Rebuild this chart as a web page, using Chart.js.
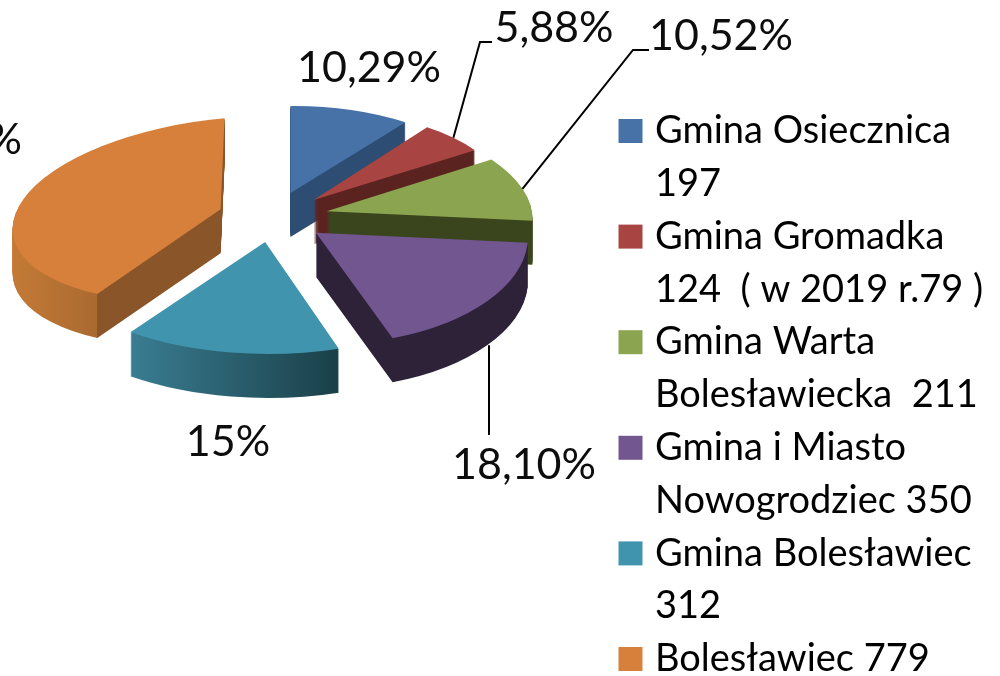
<!DOCTYPE html>
<html>
<head>
<meta charset="utf-8">
<style>
  body { margin: 0; background: #fff; }
  canvas { display: block; }
</style>
<script src="https://cdn.jsdelivr.net/npm/chart.js@4"></script>
</head>
<body>
<canvas id="pie" width="1000" height="676"></canvas>
<script>
// --- data ---
const categories = [
  ["Gmina Osiecznica", "197"],
  ["Gmina Gromadka", "124  ( w 2019 r.79 )"],
  ["Gmina Warta", "Bolesławiecka  211"],
  ["Gmina i Miasto", "Nowogrodziec 350"],
  ["Gmina Bolesławiec", "312"],
  ["Bolesławiec 779"],
];
const shares = [10.29, 5.88, 10.52, 18.1, 15, 40.21];
const shareLabels = ["10,29%", "5,88%", "10,52%", "18,10%", "15%", "40,21%"];
const colors = ["#4672a8", "#a84442", "#8aa44f", "#725690", "#4094ad", "#d6803b"];

// --- 3D look: squashed pie, every slice pulled out and extruded ---
const center = { x: 273, y: 217 };
const tilt = 0.46;
const explode = 55;
const depth = 44;
const baseRadius = 200;
// fake perspective per slice, [a, b, c, d] of x' = a*x + b*y, y' = c*x + d*y
// (px for a unit circle), front slices come out bigger
const perspective = [
  [191, 0, -2, 87],
  [191, 2, -4, 88],
  [205, 18, -1, 97],
  [212, 9, -2, 112],
  [232, -1, 2, 112],
  [208, -4, -18, 91],
];
// side wall colours, left to right across the slice
const sideStops = [
  [[0, "#2e4d72"], [1, "#2e4d72"]],
  [[0, "#5a2320"], [1, "#5a2320"]],
  [[0, "#3a451d"], [1, "#3a451d"]],
  [[0, "#2d2238"], [1, "#2d2238"]],
  [[0.21, "#3a7d92"], [0.66, "#1a4049"]],
  [[0, "#c47a36"], [0.21, "#a96a30"], [0.212, "#8a5528"], [1, "#8a5528"]],
];

function tipOf(arc) {
  const mid = (arc.startAngle + arc.endAngle) / 2;
  return {
    x: center.x + Math.cos(mid) * explode,
    y: center.y + Math.sin(mid) * explode * tilt,
  };
}

function place(ctx, arc, i, drop) {
  const tip = tipOf(arc);
  const m = perspective[i];
  ctx.translate(tip.x, tip.y + drop);
  ctx.transform(m[0] / baseRadius, m[2] / baseRadius, m[1] / baseRadius, m[3] / baseRadius, 0, 0);
  ctx.translate(-arc.x, -arc.y);
}

function rimPoint(arc, i) {
  const mid = (arc.startAngle + arc.endAngle) / 2;
  const tip = tipOf(arc);
  const m = perspective[i];
  return {
    x: tip.x + m[0] * Math.cos(mid) + m[1] * Math.sin(mid),
    y: tip.y + m[2] * Math.cos(mid) + m[3] * Math.sin(mid),
  };
}

const pie3d = {
  id: "pie3d",
  beforeDatasetDraw(chart, args) {
    const ctx = chart.ctx;
    args.meta.data.forEach((arc, i) => {
      const topOptions = arc.options;
      const grad = ctx.createLinearGradient(arc.x - baseRadius, 0, arc.x + baseRadius, 0);
      sideStops[i].forEach((s) => grad.addColorStop(s[0], s[1]));
      arc.options = Object.assign({}, topOptions, { backgroundColor: grad });
      for (let d = depth; d > 0; d--) {
        ctx.save();
        place(ctx, arc, i, d);
        arc.draw(ctx);
        ctx.restore();
      }
      arc.options = topOptions;
      ctx.save();
      place(ctx, arc, i, 0);
      arc.draw(ctx);
      ctx.restore();
    });
    return false; // already drawn
  },
  afterLayout(chart) {
    // legend sits at a fixed place, taller than what is left of the page
    const legend = chart.legend;
    legend.left = 625;
    legend.right = 1000;
    legend.top = 112;
    legend.bottom = 900;
    // the swatch hangs left of the legend box, so no clipping to it
    legend.draw = () => legend._draw();
  },
  afterDraw(chart) {
    const ctx = chart.ctx;
    const arcs = chart.getDatasetMeta(0).data;
    // label centres
    const textAt = [
      [369, 68],
      [554, 28],
      [721, 36],
      [524, 465],
      [228, 442],
      [-50, 140],
    ];
    ctx.save();
    ctx.strokeStyle = "#000";
    ctx.lineWidth = 2;
    // 5,88% and 10,52% have an elbow, 18,10% drops straight down
    let p = rimPoint(arcs[1], 1);
    ctx.beginPath();
    ctx.moveTo(p.x, p.y);
    ctx.lineTo(480, 42);
    ctx.lineTo(492, 42);
    ctx.stroke();
    p = rimPoint(arcs[2], 2);
    ctx.beginPath();
    ctx.moveTo(p.x, p.y);
    ctx.lineTo(633, 50);
    ctx.lineTo(649, 50);
    ctx.stroke();
    p = rimPoint(arcs[3], 3);
    ctx.beginPath();
    ctx.moveTo(489, p.y + depth);
    ctx.lineTo(489, 435);
    ctx.stroke();

    ctx.fillStyle = "#0d0d0d";
    ctx.font = "43px Lato";
    ctx.textAlign = "center";
    ctx.textBaseline = "middle";
    shareLabels.forEach((t, i) => ctx.fillText(t, textAt[i][0], textAt[i][1]));
    ctx.restore();
  },
};

new Chart(document.getElementById("pie"), {
  type: "pie",
  data: {
    labels: categories,
    datasets: [
      {
        data: shares,
        backgroundColor: colors,
        borderWidth: 0,
        radius: baseRadius,
      },
    ],
  },
  options: {
    responsive: false,
    animation: false,
    plugins: {
      tooltip: { enabled: false },
      legend: {
        position: "right",
        align: "start",
        labels: {
          color: "#0d0d0d",
          font: { family: "Lato", size: 38, lineHeight: "52.8px" },
          usePointStyle: true,
          boxWidth: 11,
          boxHeight: 24,
          padding: 0,
          generateLabels: () =>
            categories.map((text, i) => ({
              text: text,
              fillStyle: colors[i],
              strokeStyle: colors[i],
              lineWidth: 0,
              pointStyle: "rect",
              hidden: false,
              index: i,
            })),
        },
      },
    },
  },
  plugins: [pie3d],
});
</script>
</body>
</html>
